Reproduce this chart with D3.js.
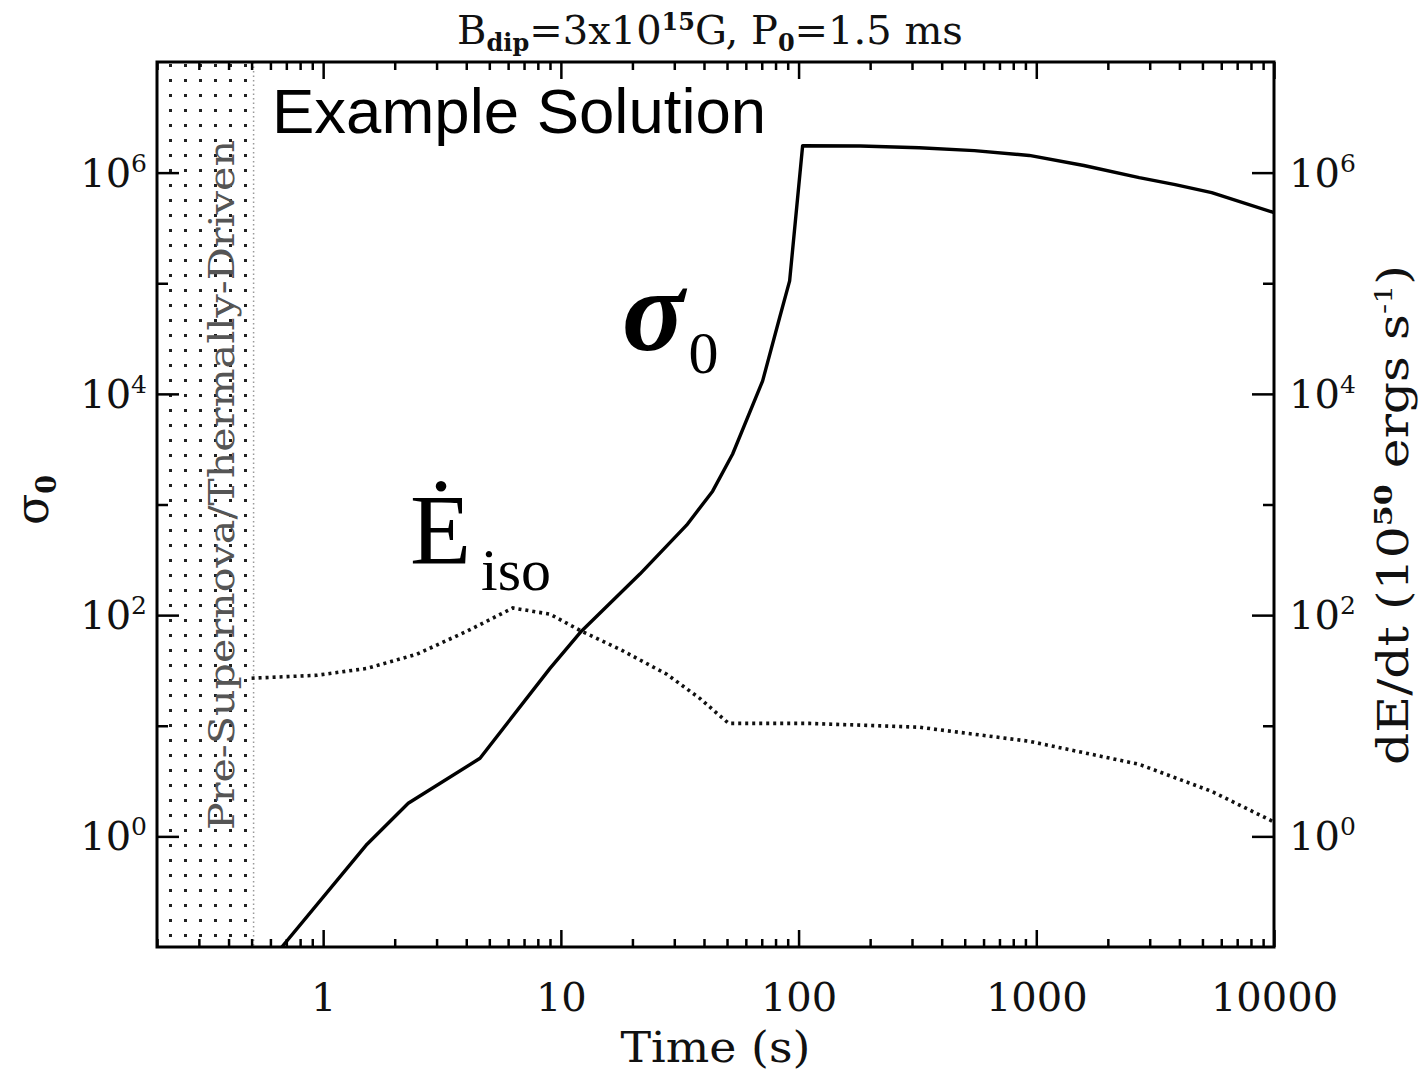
<!DOCTYPE html>
<html>
<head>
<meta charset="utf-8">
<script src="https://cdn.jsdelivr.net/npm/d3@7"></script>
<style>
  body { margin: 0; background: #fff; }
  svg { display: block; }
</style>
</head>
<body>
<svg id="chart"></svg>
<script>
// sigma_0 (solid)
var timeSigma = [0.67, 1.53, 2.28, 4.57, 9.0, 12.2, 21.5, 33.8, 43.5, 52.8, 70.6, 83.2, 91.7, 104, 182, 322, 549, 934, 1585, 2710, 3840, 5470, 10000];
var sigma     = [0.1, 0.85, 1.99, 5.08, 33, 71.6, 235, 650, 1320, 2860, 13100, 48800, 105000, 1750000, 1740000, 1680000, 1580000, 1430000, 1160000, 900000, 780000, 660000, 435000];

// dE/dt iso (dotted), right axis in 1e50 erg/s
var timeEdot = [0.5, 0.94, 1.53, 2.48, 4.03, 6.28, 9.0, 12.2, 17.7, 27.9, 38.4, 50.8, 111, 322, 934, 2710, 5470, 10000];
var edot     = [26.9, 28.6, 33, 44.4, 71.6, 116, 102, 71.6, 49.2, 29.2, 17.7, 10.5, 10.5, 9.7, 7.24, 4.48, 2.55, 1.35];

var xMajor = [1, 10, 100, 1000, 10000];
var yLabelExp = [0, 2, 4, 6];
var yMinorExp = [1, 3, 5];
var preSNEnd = 0.5;

var W = 1421, H = 1079;
var x0 = 157, x1 = 1274, y0 = 62, y1 = 947;
var serif = "'DejaVu Serif', serif";
var times = "'Liberation Serif', 'Times New Roman', serif";

var svg = d3.select('#chart').attr('width', W).attr('height', H);
svg.append('rect').attr('width', W).attr('height', H).attr('fill', '#fff');

var x = d3.scaleLog().domain([0.2, 10000]).range([x0, x1]);
var y = d3.scaleLog().domain([0.1, 1e7]).range([y1, y0]);

// minor x ticks 2..9 in each decade
var xMinor = [];
[0.1, 1, 10, 100, 1000].forEach(function(d){
  for (var k = 2; k <= 9; k++) {
    var v = d * k;
    if (v >= 0.2 && v < 10000) xMinor.push(v);
  }
});

var defs = svg.append('defs');
var pat = defs.append('pattern')
    .attr('id', 'dots')
    .attr('patternUnits', 'userSpaceOnUse')
    .attr('x', x0 + 6).attr('y', y0 - 4)
    .attr('width', 15).attr('height', 15);
pat.append('rect').attr('x', 6).attr('y', 6).attr('width', 3).attr('height', 3).attr('fill', '#222');

defs.append('clipPath').attr('id', 'plotclip')
  .append('rect').attr('x', x0).attr('y', y0).attr('width', x1 - x0).attr('height', y1 - y0);

// shaded pre-supernova region
svg.append('rect')
  .attr('x', x0).attr('y', y0)
  .attr('width', x(preSNEnd) - x0)
  .attr('height', y1 - y0)
  .attr('fill', 'url(#dots)');
svg.append('line')
  .attr('x1', x(preSNEnd) + 2).attr('x2', x(preSNEnd) + 2)
  .attr('y1', y0).attr('y2', y1)
  .attr('stroke', '#999').attr('stroke-width', 1.5)
  .attr('stroke-dasharray', '1.5,3');

svg.append('text')
  .attr('transform', 'translate(234,485) rotate(-90)')
  .attr('text-anchor', 'middle')
  .attr('font-family', serif)
  .attr('font-size', 36)
  .attr('fill', '#555')
  .attr('textLength', 690)
  .attr('lengthAdjust', 'spacingAndGlyphs')
  .text('Pre-Supernova/Thermally-Driven');

// curves
var line = d3.line()
  .x(function(d){ return x(d[0]); })
  .y(function(d){ return y(d[1]); });

var plot = svg.append('g').attr('clip-path', 'url(#plotclip)');

plot.append('path')
  .datum(timeSigma.map(function(t, i){ return [t, sigma[i]]; }))
  .attr('d', line)
  .attr('fill', 'none')
  .attr('stroke', '#000')
  .attr('stroke-width', 3.4)
  .attr('stroke-linejoin', 'round');

plot.append('path')
  .datum(timeEdot.map(function(t, i){ return [t, edot[i]]; }))
  .attr('d', line)
  .attr('fill', 'none')
  .attr('stroke', '#111')
  .attr('stroke-width', 3.6)
  .attr('stroke-dasharray', '3,4');

// axes: ticks point inwards
function styleAxis(g){
  g.select('.domain').remove();
  g.selectAll('line').attr('stroke', '#000').attr('stroke-width', 2.5);
}

svg.append('g').attr('transform', 'translate(0,' + y1 + ')')
  .call(d3.axisBottom(x).tickValues(xMajor).tickSize(-17).tickPadding(36).tickFormat(d3.format('d')))
  .call(styleAxis)
  .selectAll('text')
    .attr('font-family', serif).attr('font-size', 40).attr('fill', '#111');
svg.append('g').attr('transform', 'translate(0,' + y1 + ')')
  .call(d3.axisBottom(x).tickValues(xMinor).tickSize(-8).tickFormat(''))
  .call(styleAxis);
svg.append('g').attr('transform', 'translate(0,' + y0 + ')')
  .call(d3.axisTop(x).tickValues(xMajor).tickSize(-17).tickFormat(''))
  .call(styleAxis);
svg.append('g').attr('transform', 'translate(0,' + y0 + ')')
  .call(d3.axisTop(x).tickValues(xMinor).tickSize(-8).tickFormat(''))
  .call(styleAxis);

var yMaj = yLabelExp.map(function(e){ return Math.pow(10, e); });
var yMin = yMinorExp.map(function(e){ return Math.pow(10, e); });
svg.append('g').attr('transform', 'translate(' + x0 + ',0)')
  .call(d3.axisLeft(y).tickValues(yMaj).tickSize(-22).tickFormat(''))
  .call(styleAxis);
svg.append('g').attr('transform', 'translate(' + x0 + ',0)')
  .call(d3.axisLeft(y).tickValues(yMin).tickSize(-11).tickFormat(''))
  .call(styleAxis);
svg.append('g').attr('transform', 'translate(' + x1 + ',0)')
  .call(d3.axisRight(y).tickValues(yMaj).tickSize(-22).tickFormat(''))
  .call(styleAxis);
svg.append('g').attr('transform', 'translate(' + x1 + ',0)')
  .call(d3.axisRight(y).tickValues(yMin).tickSize(-11).tickFormat(''))
  .call(styleAxis);

// frame
svg.append('rect')
  .attr('x', x0).attr('y', y0)
  .attr('width', x1 - x0).attr('height', y1 - y0)
  .attr('fill', 'none').attr('stroke', '#000').attr('stroke-width', 3);

// y tick labels 10^n on both sides
function powLabel(xpos, anchor, e){
  var t = svg.append('text')
    .attr('x', xpos).attr('y', y(Math.pow(10, e)) + 14)
    .attr('text-anchor', anchor)
    .attr('font-family', serif).attr('font-size', 40).attr('fill', '#111');
  t.append('tspan').text('10');
  t.append('tspan').attr('dy', -15).attr('font-size', 25).text(e);
}
yLabelExp.forEach(function(e){
  powLabel(147, 'end', e);
  powLabel(1289, 'start', e);
});

// axis titles
svg.append('text')
  .attr('x', (x0 + x1) / 2).attr('y', 1062)
  .attr('text-anchor', 'middle')
  .attr('font-family', serif).attr('font-size', 42).attr('fill', '#111')
  .attr('textLength', 190).attr('lengthAdjust', 'spacingAndGlyphs')
  .text('Time (s)');

var yl = svg.append('text')
  .attr('transform', 'translate(48,500) rotate(-90)')
  .attr('text-anchor', 'middle')
  .attr('font-family', serif).attr('font-size', 46).attr('fill', '#111');
yl.append('tspan').text('σ');
yl.append('tspan').attr('dy', 8).attr('font-size', 27).attr('font-weight', 'bold').text('0');

var yr = svg.append('text')
  .attr('transform', 'translate(1408,515) rotate(-90)')
  .attr('text-anchor', 'middle')
  .attr('font-family', serif).attr('font-size', 42).attr('fill', '#111')
  .attr('textLength', 500).attr('lengthAdjust', 'spacingAndGlyphs');
yr.append('tspan').text('dE/dt (10');
yr.append('tspan').attr('dy', -16).attr('font-size', 25).attr('font-weight', 'bold').text('50');
yr.append('tspan').attr('dy', 16).text(' ergs s');
yr.append('tspan').attr('dy', -16).attr('font-size', 25).text('-1');
yr.append('tspan').attr('dy', 16).text(')');

// title
var tt = svg.append('text')
  .attr('x', 710).attr('y', 44)
  .attr('text-anchor', 'middle')
  .attr('font-family', serif).attr('font-size', 40).attr('fill', '#111');
tt.append('tspan').text('B');
tt.append('tspan').attr('dy', 7).attr('font-size', 24).attr('font-weight', 'bold').text('dip');
tt.append('tspan').attr('dy', -7).text('=3x10');
tt.append('tspan').attr('dy', -14).attr('font-size', 24).attr('font-weight', 'bold').text('15');
tt.append('tspan').attr('dy', 14).text('G, P');
tt.append('tspan').attr('dy', 7).attr('font-size', 24).attr('font-weight', 'bold').text('0');
tt.append('tspan').attr('dy', -7).text('=1.5 ms');

// annotations
svg.append('text')
  .attr('x', 272).attr('y', 133)
  .attr('font-family', "'Liberation Sans', Arial, sans-serif")
  .attr('font-size', 63.5).attr('fill', '#000')
  .text('Example Solution');

var sl = svg.append('text')
  .attr('x', 622).attr('y', 350)
  .attr('font-family', times)
  .attr('fill', '#000');
sl.append('tspan').attr('font-size', 116).attr('font-style', 'italic').attr('font-weight', 'bold').text('σ');
sl.append('tspan').attr('font-size', 60).attr('dy', 23).attr('dx', 4).text('0');

var el = svg.append('text')
  .attr('x', 410).attr('y', 563)
  .attr('font-family', times)
  .attr('fill', '#000');
el.append('tspan').attr('font-size', 100).text('Ė');
el.append('tspan').attr('font-size', 60).attr('dy', 27).attr('dx', 10).text('iso');
</script>
</body>
</html>
